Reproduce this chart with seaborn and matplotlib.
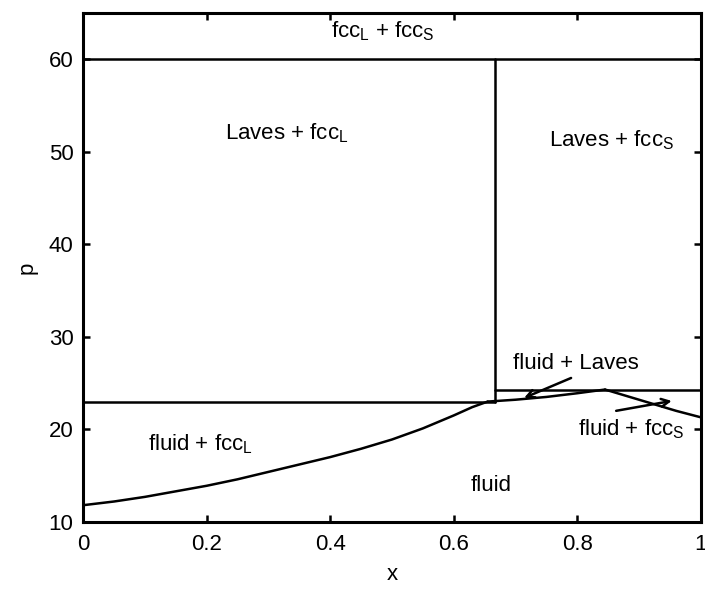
import matplotlib
matplotlib.use("Agg")
import matplotlib.pyplot as plt
import seaborn as sns
import pandas as pd

# Phase boundaries
x_fccL_liq = [0.0, 0.05, 0.1, 0.15, 0.2, 0.25, 0.3, 0.35, 0.4, 0.45, 0.5, 0.55, 0.6, 0.63, 0.655]
p_fccL_liq = [11.8, 12.2, 12.7, 13.3, 13.9, 14.6, 15.4, 16.2, 17.0, 17.9, 18.9, 20.1, 21.5, 22.4, 23.0]

x_laves_liq = [0.655, 0.70, 0.75, 0.80, 0.845]
p_laves_liq = [23.0, 23.2, 23.5, 23.9, 24.3]

x_fccS_liq = [0.845, 0.88, 0.92, 0.96, 1.0]
p_fccS_liq = [24.3, 23.6, 22.8, 22.0, 21.3]

x_top = [0.0, 1.0]
p_top = [60.0, 60.0]
x_left_eut = [0.0, 0.667]
p_left_eut = [23.0, 23.0]
x_right_eut = [0.667, 1.0]
p_right_eut = [24.3, 24.3]
x_laves = [0.667, 0.667]
p_laves = [23.0, 60.0]

segments = [
    ("fccL_liq", x_fccL_liq, p_fccL_liq),
    ("laves_liq", x_laves_liq, p_laves_liq),
    ("fccS_liq", x_fccS_liq, p_fccS_liq),
    ("top", x_top, p_top),
    ("left_eut", x_left_eut, p_left_eut),
    ("right_eut", x_right_eut, p_right_eut),
    ("laves", x_laves, p_laves),
]

sns.set_theme(style="ticks")
plt.rcParams["font.family"] = ["Liberation Sans", "DejaVu Sans"]
plt.rcParams["mathtext.fontset"] = "custom"
plt.rcParams["mathtext.rm"] = "Liberation Sans"
plt.rcParams["mathtext.it"] = "Liberation Sans"
plt.rcParams["text.color"] = "black"
plt.rcParams["axes.labelcolor"] = "black"
plt.rcParams["xtick.color"] = "black"
plt.rcParams["ytick.color"] = "black"
plt.rcParams["axes.edgecolor"] = "black"

fig = plt.figure(figsize=(7.05, 5.89), dpi=100)
ax = fig.add_axes([0.118, 0.114, 0.876, 0.864])

for name, xs, ps in segments:
    df = pd.DataFrame({"x": xs, "p": ps})
    sns.lineplot(data=df, x="x", y="p", ax=ax, color="black", lw=1.8,
                 sort=False, estimator=None)

ax.set_xlim(0, 1)
ax.set_ylim(10, 65)
ax.set_xticks([0, 0.2, 0.4, 0.6, 0.8, 1])
ax.set_xticklabels(["0", "0.2", "0.4", "0.6", "0.8", "1"])
ax.set_yticks([10, 20, 30, 40, 50, 60])
ax.tick_params(direction="in", top=True, right=True, length=5, width=1.8,
               labelsize=16)
ax.tick_params(axis="x", pad=9)
ax.tick_params(axis="y", pad=7)
for sp in ax.spines.values():
    sp.set_linewidth(2.2)
ax.set_xlabel("x", fontsize=16, labelpad=6)
ax.set_ylabel("p", fontsize=16, labelpad=8)

fs = 16
ax.text(0.485, 63.0, r"fcc$_\mathrm{L}$ + fcc$_\mathrm{S}$", ha="center", va="center", fontsize=fs)
ax.text(0.33, 52.0, r"Laves + fcc$_\mathrm{L}$", ha="center", va="center", fontsize=fs)
ax.text(0.855, 51.25, r"Laves + fcc$_\mathrm{S}$", ha="center", va="center", fontsize=fs)
ax.text(0.797, 27.1, "fluid + Laves", ha="center", va="center", fontsize=fs)
ax.text(0.887, 20.0, r"fluid + fcc$_\mathrm{S}$", ha="center", va="center", fontsize=fs)
ax.text(0.19, 18.4, r"fluid + fcc$_\mathrm{L}$", ha="center", va="center", fontsize=fs)
ax.text(0.66, 13.9, "fluid", ha="center", va="center", fontsize=fs)

ax.annotate("", xy=(0.714, 23.4), xytext=(0.790, 25.55),
            arrowprops=dict(arrowstyle="->", color="black", lw=1.8,
                            shrinkA=0, shrinkB=0, mutation_scale=14))
ax.annotate("", xy=(0.953, 23.07), xytext=(0.863, 22.0),
            arrowprops=dict(arrowstyle="->", color="black", lw=1.8,
                            shrinkA=0, shrinkB=0, mutation_scale=14))

fig.savefig("out.png", dpi=100)
